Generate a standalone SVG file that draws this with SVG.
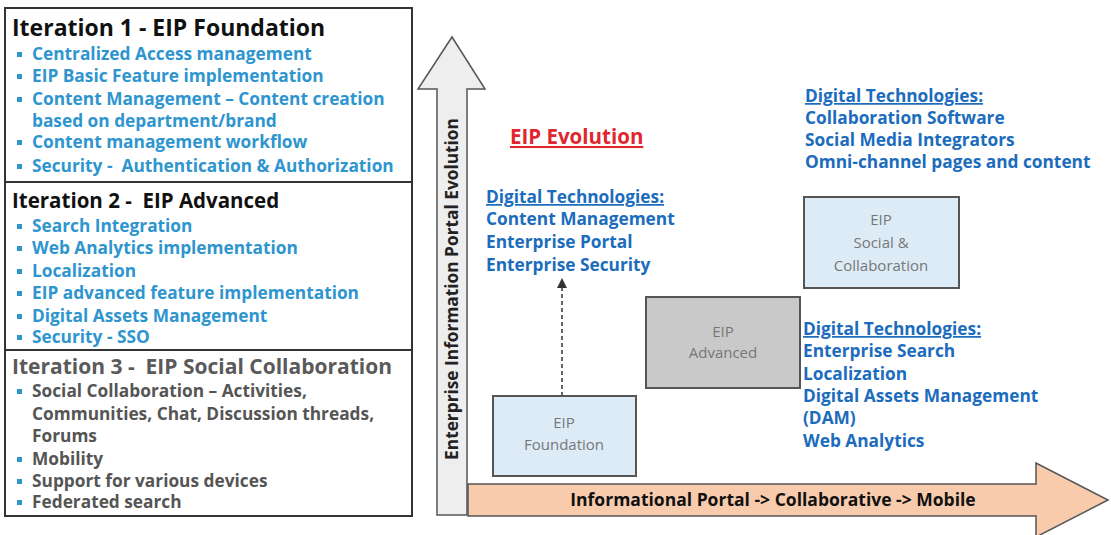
<svg xmlns="http://www.w3.org/2000/svg" width="1111" height="535" viewBox="0 0 1111 535">
<defs>
<style>
text{font-family:"Open Sans","Noto Sans","Liberation Sans",sans-serif;font-weight:bold}
.title{font-size:23px;fill:#111}
.title2{font-size:20.5px;fill:#111}
.title3{font-size:21px;fill:#5a5a5a}
.item{font-size:17.3px;fill:#2e95cf}
.item3{font-size:17.3px;fill:#555}
.bul{fill:#2e95cf}
.dt{font-size:17.3px;fill:#1c6cbd}
.u{text-decoration:underline}
.box{stroke:#555;stroke-width:2}
.lbl{font-size:15px;fill:#777;font-weight:normal;text-anchor:middle}
</style>
<marker id="ah" viewBox="0 0 10 10" refX="9" refY="5" markerWidth="10" markerHeight="10" markerUnits="userSpaceOnUse" orient="auto">
<path d="M0,0 L10,5 L0,10 z" fill="#333"/>
</marker>
</defs>
<rect width="1111" height="535" fill="#fff"/>

<g id="iterations">
<rect x="5" y="8" width="407" height="508" fill="#fff" stroke="#333" stroke-width="2"/>
<line x1="5" y1="182" x2="412" y2="182" stroke="#333" stroke-width="2"/>
<line x1="5" y1="350" x2="412" y2="350" stroke="#333" stroke-width="2"/>
<g id="iter1">
<text class="title" x="12" y="36">Iteration 1 - EIP Foundation</text>
<rect class="bul" x="17" y="52" width="5" height="5"/>
<text class="item" x="32" y="60">Centralized Access management</text>
<rect class="bul" x="17" y="74" width="5" height="5"/>
<text class="item" x="32" y="82">EIP Basic Feature implementation</text>
<rect class="bul" x="17" y="97" width="5" height="5"/>
<text class="item" x="32" y="105">Content Management – Content creation</text>
<text class="item" x="32" y="127">based on department/brand</text>
<rect class="bul" x="17" y="140" width="5" height="5"/>
<text class="item" x="32" y="148">Content management workflow</text>
<rect class="bul" x="17" y="164" width="5" height="5"/>
<text class="item" x="32" y="172" xml:space="preserve">Security -  Authentication &amp; Authorization</text>
</g>
<g id="iter2">
<text class="title2" x="12" y="208" xml:space="preserve">Iteration 2 -  EIP Advanced</text>
<rect class="bul" x="17" y="224" width="5" height="5"/>
<text class="item" x="32" y="232">Search Integration</text>
<rect class="bul" x="17" y="246" width="5" height="5"/>
<text class="item" x="32" y="254">Web Analytics implementation</text>
<rect class="bul" x="17" y="269" width="5" height="5"/>
<text class="item" x="32" y="277">Localization</text>
<rect class="bul" x="17" y="291" width="5" height="5"/>
<text class="item" x="32" y="299">EIP advanced feature implementation</text>
<rect class="bul" x="17" y="314" width="5" height="5"/>
<text class="item" x="32" y="322">Digital Assets Management</text>
<rect class="bul" x="17" y="335" width="5" height="5"/>
<text class="item" x="32" y="343">Security - SSO</text>
</g>
<g id="iter3">
<text class="title3" x="12" y="374" xml:space="preserve">Iteration 3 -  EIP Social Collaboration</text>
<rect class="bul" x="17" y="389" width="5" height="5"/>
<text class="item3" x="32" y="397">Social Collaboration – Activities,</text>
<text class="item3" x="32" y="420">Communities, Chat, Discussion threads,</text>
<text class="item3" x="32" y="442">Forums</text>
<rect class="bul" x="17" y="457" width="5" height="5"/>
<text class="item3" x="32" y="465">Mobility</text>
<rect class="bul" x="17" y="479" width="5" height="5"/>
<text class="item3" x="32" y="487">Support for various devices</text>
<rect class="bul" x="17" y="500" width="5" height="5"/>
<text class="item3" x="32" y="508">Federated search</text>
</g>
</g>

<g id="vertical-axis">
<path d="M437,515 L437,89 L418,89 L452,37 L485,89 L467,89 L467,515 Z" fill="#eeeeee" stroke="#555" stroke-width="1.5"/>
<text transform="translate(458,289) rotate(-90)" text-anchor="middle" style="font-size:17.3px;fill:#222">Enterprise Information Portal Evolution</text>
</g>

<g id="horizontal-axis">
<path d="M468,484 L1036,484 L1036,463 L1108,500 L1036,537 L1036,516 L468,516 Z" fill="#f8cbad" stroke="#555" stroke-width="1.5"/>
<text x="773" y="506" text-anchor="middle" style="font-size:17.5px;fill:#111">Informational Portal -&gt; Collaborative -&gt; Mobile</text>
</g>

<text x="510" y="144" class="u" style="font-size:20.5px;fill:#e0262e">EIP Evolution</text>

<g id="dt1">
<text class="dt u" x="486" y="203">Digital Technologies:</text>
<text class="dt" x="486" y="225">Content Management</text>
<text class="dt" x="486" y="248">Enterprise Portal</text>
<text class="dt" x="486" y="271">Enterprise Security</text>
</g>
<g id="dt2">
<text class="dt u" x="805" y="102">Digital Technologies:</text>
<text class="dt" x="805" y="124">Collaboration Software</text>
<text class="dt" x="805" y="146">Social Media Integrators</text>
<text class="dt" x="805" y="168">Omni-channel pages and content</text>
</g>
<g id="dt3">
<text class="dt u" x="803" y="335">Digital Technologies:</text>
<text class="dt" x="803" y="357">Enterprise Search</text>
<text class="dt" x="803" y="380">Localization</text>
<text class="dt" x="803" y="402">Digital Assets Management</text>
<text class="dt" x="803" y="424">(DAM)</text>
<text class="dt" x="803" y="447">Web Analytics</text>
</g>

<g id="connectors">
<line x1="562" y1="396" x2="562" y2="279" stroke="#333" stroke-width="1.5" stroke-dasharray="4,3" marker-end="url(#ah)"/>
</g>

<g id="node-foundation">
<rect class="box" x="493" y="396" width="143" height="80" fill="#ddebf7"/>
<text class="lbl" x="564" y="428">EIP</text>
<text class="lbl" x="564" y="450">Foundation</text>
</g>
<g id="node-advanced">
<rect class="box" x="646" y="297" width="154" height="91" fill="#c9c9c9"/>
<text class="lbl" x="723" y="337">EIP</text>
<text class="lbl" x="723" y="358">Advanced</text>
</g>
<g id="node-social">
<rect class="box" x="804" y="197" width="155" height="91" fill="#ddebf7"/>
<text class="lbl" x="881" y="225">EIP</text>
<text class="lbl" x="881" y="248">Social &amp;</text>
<text class="lbl" x="881" y="271">Collaboration</text>
</g>
</svg>
